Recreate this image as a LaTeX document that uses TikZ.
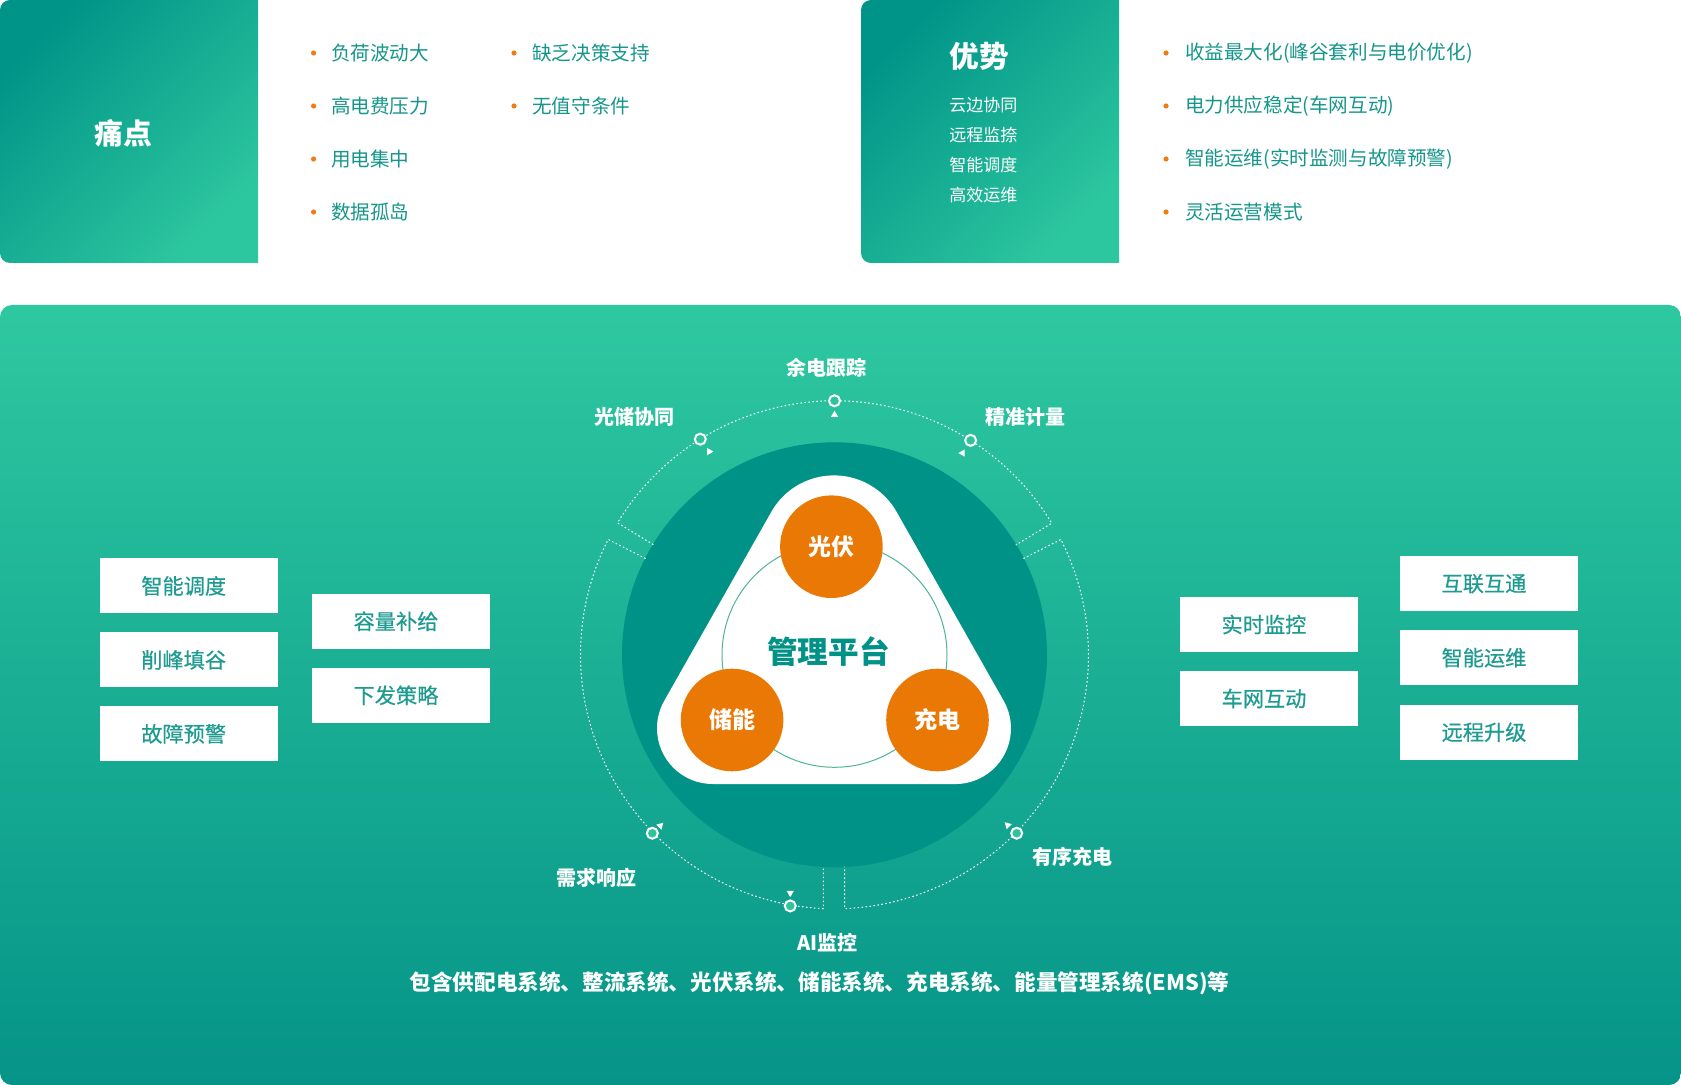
\documentclass[tikz,border=0pt]{standalone}
\usepackage{fontspec}
\setmainfont{Noto Sans CJK SC}
\newfontfamily\medfont{Noto Sans CJK SC}[FakeBold=0.5]
\usepackage{tikz}
\usetikzlibrary{shapes.geometric,positioning,calc}

\definecolor{paneldark}{RGB}{0,148,136}
\definecolor{panellight}{RGB}{45,199,159}
\definecolor{bigtop}{RGB}{46,200,160}
\definecolor{bigbottom}{RGB}{5,148,136}
\definecolor{ringdark}{RGB}{0,146,134}
\definecolor{itemteal}{RGB}{22,150,138}
\definecolor{boxteal}{RGB}{30,155,144}
\definecolor{ballorange}{RGB}{234,120,4}
\definecolor{bulletorange}{RGB}{238,125,20}
\definecolor{thinring}{RGB}{80,180,150}
\definecolor{markfill}{RGB}{45,195,155}

\begin{document}
\begin{tikzpicture}[x=0.5pt,y=0.5pt,
    featbox/.style={fill=white, minimum width=89pt, minimum height=27.5pt, inner sep=0pt,
        text=boxteal, font=\fontsize{10.6}{12}\selectfont\medfont,
        execute at begin node={\hspace*{-5pt}}},
    bulletdot/.style={circle, fill=bulletorange, inner sep=0pt, minimum size=2.6pt},
    bulletitem/.style={anchor=west, inner sep=0pt, text=itemteal, font=\fontsize{9.8}{12}\selectfont},
    orangeball/.style={circle, fill=ballorange, inner sep=0pt, minimum size=51.3pt,
        text=white, font=\fontsize{11.5}{12}\selectfont\bfseries},
    ringmark/.style={circle, draw=white, line width=1pt, fill=markfill, inner sep=0pt, minimum size=5.5pt},
    arrowtip/.style={regular polygon, regular polygon sides=3, fill=white, inner sep=0pt, minimum size=4.2pt},
    ringlabel/.style={text=white, font=\fontsize{10}{12}\selectfont\bfseries},
    dotline/.style={white, line width=0.5pt, dash pattern=on 0.8pt off 1.2pt}]

    \useasboundingbox (0,0) rectangle (1681,-1085);

    % Top left panel - pain points
    \shade[top color=paneldark, bottom color=panellight, shading angle=45]
        (258,0) -- (10,0) arc[start angle=90, end angle=180, radius=5pt]
        -- (0,-253) arc[start angle=180, end angle=270, radius=5pt] -- (258,-263) -- cycle;
    \node[text=white, font=\fontsize{14.4}{16}\selectfont\bfseries] (pain) at (123,-133) {痛点};

    \foreach \txt/\yy/\nm in {负荷波动大/53/pa, 高电费压力/106/pb, 用电集中/159/pc, 数据孤岛/212/pd}{
        \node[bulletdot] (\nm dot) at (313.6,-\yy) {};
        \node[bulletitem] (\nm) at (330.6,-\yy) {\txt};
    }
    \foreach \txt/\yy/\nm in {缺乏决策支持/53/pe, 无值守条件/106/pf}{
        \node[bulletdot] (\nm dot) at (514,-\yy) {};
        \node[bulletitem] (\nm) at (531.8,-\yy) {\txt};
    }

    % Top right panel - advantages
    \shade[top color=paneldark, bottom color=panellight, shading angle=45]
        (1119,0) -- (871,0) arc[start angle=90, end angle=180, radius=5pt]
        -- (861,-253) arc[start angle=180, end angle=270, radius=5pt] -- (1119,-263) -- cycle;
    \node[text=white, font=\fontsize{14.8}{16}\selectfont\bfseries] (adv) at (979.5,-56) {优势};
    \foreach \txt/\yy/\nm in {云边协同/105/aa, 远程监捺/135/ab, 智能调度/165/ac, 高效运维/195/ad}{
        \node[anchor=west, inner sep=0pt, text=white, font=\fontsize{8.5}{10}\selectfont] (\nm) at (949,-\yy) {\txt};
    }
    \foreach \txt/\yy/\nm in {收益最大化(峰谷套利与电价优化)/53/ae, 电力供应稳定(车网互动)/106/af,
        智能运维(实时监测与故障预警)/159/ag, 灵活运营模式/212/ah}{
        \node[bulletdot] (\nm dot) at (1166,-\yy) {};
        \node[bulletitem] (\nm) at (1184.6,-\yy) {\txt};
    }

    % Main panel
    \shade[top color=bigtop, bottom color=bigbottom, rounded corners=6pt] (0,-305) rectangle (1681,-1085);

    % Platform ring
    \coordinate (hub) at (834.5,-654.8);
    \fill[ringdark] (hub) circle[radius=106.25pt];

    % Dotted orbit
    \draw[dotline] ($(hub)+(148.7:212)$) -- ($(hub)+(148.7:254)$)
        arc[start angle=148.7, end angle=31.2, radius=127pt] -- ($(hub)+(31.2:212)$);
    \draw[dotline] ($(hub)+(153:212)$) -- ($(hub)+(153:254)$)
        arc[start angle=153, end angle=267.5, radius=127pt] -- ++(0,42);
    \draw[dotline] ($(hub)+(27:212)$) -- ($(hub)+(27:254)$)
        arc[start angle=27, end angle=-87.7, radius=127pt] -- ++(0,42);

    % Rounded triangle
    \fill[white] (771.6,-511.4) arc[start angle=150, end angle=30, radius=36pt]
        -- (1003.5,-700.5) arc[start angle=30, end angle=-90, radius=27.85pt]
        -- (712.7,-784) arc[start angle=270, end angle=150, radius=27.85pt] -- cycle;
    \draw[thinring, line width=0.5pt] (hub) circle[radius=56.25pt];

    \node[orangeball] (pv) at (831.4,-546.7) {光伏};
    \node[orangeball] (ess) at (732.1,-720) {储能};
    \node[orangeball] (chg) at (937.5,-720) {充电};
    \node[text=ringdark, font=\fontsize{15.3}{17}\selectfont\bfseries] (ems) at (828.5,-651.5) {管理平台};

    % Orbit markers
    \node[ringmark] (m1) at ($(hub)+(121.9:254)$) {};
    \node[ringmark] (m2) at ($(hub)+(90:254)$) {};
    \node[ringmark] (m3) at ($(hub)+(57.6:254)$) {};
    \node[ringmark] (m4) at ($(hub)+(224.4:255)$) {};
    \node[ringmark] (m5) at ($(hub)+(260:255)$) {};
    \node[ringmark] (m6) at ($(hub)+(315.6:255)$) {};

    \node[arrowtip, rotate=-90] (t1) at ($(m1)+(9,-12.4)$) {};
    \node[arrowtip] (t2) at ($(m2)+(0,-14)$) {};
    \node[arrowtip, rotate=90] (t3) at ($(m3)+(-8,-12.7)$) {};
    \node[arrowtip, rotate=-45] (t4) at ($(m4)+(8,7.5)$) {};
    \node[arrowtip, rotate=180] (t5) at ($(m5)+(0,13)$) {};
    \node[arrowtip, rotate=45] (t6) at ($(m6)+(-9,8)$) {};

    \node[ringlabel] (l1) at (634.8,-416.7) {光储协同};
    \node[ringlabel] (l2) at (826,-368) {余电跟踪};
    \node[ringlabel] (l3) at (1025.6,-416.7) {精准计量};
    \node[ringlabel] (l4) at (596,-878) {需求响应};
    \node[ringlabel] (l5) at (827.6,-942.4) {AI监控};
    \node[ringlabel] (l6) at (1072,-856.6) {有序充电};

    % Left boxes
    \node[featbox] (sched) at (188.7,-585.9) {智能调度};
    \node[featbox] (peak) at (188.7,-659.9) {削峰填谷};
    \node[featbox] (fault) at (188.7,-733.8) {故障预警};
    \node[featbox] (cap) at (401,-621.3) {容量补给};
    \node[featbox] (plan) at (401,-695.3) {下发策略};

    % Right boxes
    \node[featbox] (mon) at (1269,-624.5) {实时监控};
    \node[featbox] (v2g) at (1269,-698.5) {车网互动};
    \node[featbox] (link) at (1489,-583.7) {互联互通};
    \node[featbox] (ops) at (1489,-657.7) {智能运维};
    \node[featbox] (ota) at (1489,-732.2) {远程升级};

    % Bottom note
    \node[text=white, font=\fontsize{10.8}{12}\selectfont\bfseries] (note) at (819.5,-983)
        {包含供配电系统、整流系统、光伏系统、储能系统、充电系统、能量管理系统(EMS)等};
\end{tikzpicture}
\end{document}
